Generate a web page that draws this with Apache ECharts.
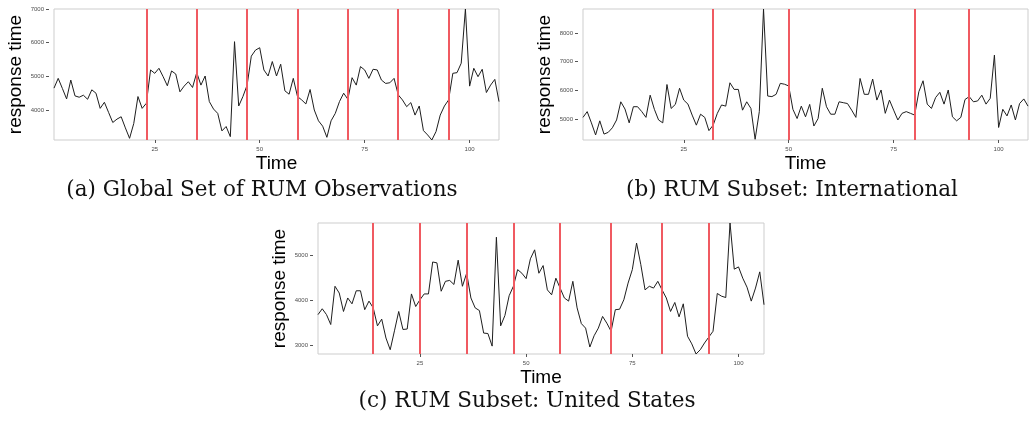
<!DOCTYPE html>
<html><head><meta charset="utf-8">
<script src="https://cdn.jsdelivr.net/npm/echarts@6/dist/echarts.min.js"></script>
<style>html,body{margin:0;padding:0;background:#fff}#c{width:1029px;height:434px}</style>
</head><body><div id="c"></div>
<script>
// ---- data ----
const xTicks = [25, 50, 75, 100];

const seriesA = [4650,4940,4640,4330,4890,4420,4380,4440,4320,4600,4500,4050,4230,3930,3630,3730,3800,3470,3160,3600,
4400,4050,4200,5190,5090,5240,4990,4720,5160,5070,4540,4710,4840,4670,5110,4740,5010,4250,4030,3900,
3380,3510,3210,6030,4120,4400,4740,5600,5780,5850,5190,5010,5440,5010,5360,4570,4470,4940,4400,4300,
4180,4610,4000,3680,3520,3190,3680,3900,4250,4500,4320,4960,4740,5290,5190,4940,5210,5190,4890,4790,
4810,4940,4450,4300,4100,4220,3850,4120,3390,3260,3110,3360,3850,4120,4300,5090,5110,5390,7000,4710,
5240,4990,5210,4520,4740,4910,4250];
const changesA = [23, 35, 47, 59, 71, 83, 95];
const yTicksA = [4000, 5000, 6000, 7000];
const yRangeA = [3110, 7000];
const xRangeA = [1, 107];

const seriesB = [5070,5270,4880,4460,4950,4490,4550,4710,4980,5610,5360,4880,5440,5440,5270,5070,5840,5350,4980,4880,
6210,5380,5520,6080,5670,5530,5150,4800,5180,5070,4610,4800,5210,5500,5460,6270,6040,6040,5320,5610,
5380,4310,5270,8830,5810,5790,5870,6250,6220,6160,5350,5030,5460,5090,5520,4770,5030,6080,5440,5180,
5180,5610,5580,5550,5320,5070,6420,5870,5870,6400,5670,6020,5210,5670,5320,4980,5210,5270,5210,5150,
5960,6340,5530,5380,5760,5940,5530,6020,5090,4950,5070,5690,5790,5610,5640,5840,5530,5730,7230,4720,
5350,5120,5500,4980,5550,5710,5460];
const changesB = [32, 50, 80, 93];
const yTicksB = [5000, 6000, 7000, 8000];
const yRangeB = [4285, 8830];
const xRangeB = [1, 107];

const seriesC = [3690,3820,3690,3470,4320,4170,3760,4060,3930,4220,4220,3800,3990,3840,3440,3590,3170,2910,3330,3760,
3360,3370,4150,3870,4020,4150,4150,4860,4840,4210,4430,4450,4360,4900,4320,4610,4060,3840,3780,3280,
3270,2990,5410,3440,3670,4110,4320,4690,4610,4490,4930,5130,4610,4780,4240,4130,4500,4280,4060,3990,
4430,3840,3490,3390,2970,3220,3390,3650,3500,3320,3800,3810,4020,4390,4690,5280,4800,4240,4320,4280,
4430,4240,4060,3760,3960,3640,3930,3210,3040,2815,2910,3060,3190,3320,4160,4100,4070,5726,4700,4750,
4500,4300,3990,4280,4640,3910];
const changesC = [14, 25, 36, 47, 58, 70, 82, 93];
const yTicksC = [3000, 4000, 5000];
const yRangeC = [2815, 5726];
const xRangeC = [1, 106];

const captions = ['(a) Global Set of RUM Observations', '(b) RUM Subset: International', '(c) RUM Subset: United States'];
const xTitle = 'Time';
const yTitle = 'response time';

// ---- layout / style ----
const grids = [
  {left: 54, top: 9, width: 445, height: 131},
  {left: 583, top: 9, width: 445, height: 131},
  {left: 318, top: 223, width: 446, height: 131}
];
const captionPos = [[262, 190], [792, 190], [527, 401]];
const sans = 'Liberation Sans, Arial, sans-serif';
const serif = 'DejaVu Serif, serif';
const panels = [
  {vals: seriesA, ch: changesA, yt: yTicksA, yr: yRangeA, xr: xRangeA},
  {vals: seriesB, ch: changesB, yt: yTicksB, yr: yRangeB, xr: xRangeB},
  {vals: seriesC, ch: changesC, yt: yTicksC, yr: yRangeC, xr: xRangeC}
];

const option = {
  animation: false,
  backgroundColor: '#fff',
  grid: grids.map(g => Object.assign({show: true, borderColor: '#cdcdcd', borderWidth: 1, backgroundColor: 'transparent', outerBoundsMode: 'none', containLabel: false}, g)),
  xAxis: panels.map((p, i) => ({
    type: 'value', gridIndex: i, min: p.xr[0], max: p.xr[1],
    axisLine: {show: false},
    splitLine: {show: false},
    axisTick: {show: true, length: 3, customValues: xTicks, lineStyle: {color: '#555', width: 1}},
    axisLabel: {customValues: xTicks, fontSize: 6, color: '#4d4d4d', margin: 6, fontFamily: sans, formatter: v => String(v)},
    name: xTitle, nameLocation: 'middle', nameGap: 14,
    nameTextStyle: {fontFamily: sans, fontSize: 19, color: '#000'}
  })),
  yAxis: panels.map((p, i) => ({
    type: 'value', gridIndex: i, min: p.yr[0], max: p.yr[1], offset: 5,
    axisLine: {show: false},
    splitLine: {show: false},
    axisTick: {show: true, length: 3, customValues: p.yt, lineStyle: {color: '#555', width: 1}},
    axisLabel: {customValues: p.yt, fontSize: 6, color: '#4d4d4d', margin: 5, fontFamily: sans, formatter: v => String(v)},
    name: yTitle, nameLocation: 'middle', nameGap: 24, nameRotate: 90,
    nameTextStyle: {fontFamily: sans, fontSize: 19, color: '#000'}
  })),
  series: panels.map((p, i) => ({
    type: 'line', xAxisIndex: i, yAxisIndex: i,
    data: p.vals.map((v, k) => [k + 1, v]),
    symbol: 'none', showSymbol: false, silent: true,
    lineStyle: {color: '#1e1e1e', width: 1},
    markLine: {
      silent: true, symbol: ['none', 'none'], animation: false,
      label: {show: false},
      lineStyle: {color: '#f05a61', width: 2, type: 'solid', opacity: 1},
      emphasis: {disabled: true},
      data: p.ch.map(x => ({xAxis: x}))
    }
  })),
  graphic: captions.map((t, i) => ({
    type: 'text', x: captionPos[i][0], y: captionPos[i][1],
    style: {text: t, font: '21.5px ' + serif, fill: '#111', align: 'center', verticalAlign: 'middle'}
  }))
};

const chart = echarts.init(document.getElementById('c'), null, {renderer: 'canvas'});
chart.setOption(option);
</script>
</body></html>
